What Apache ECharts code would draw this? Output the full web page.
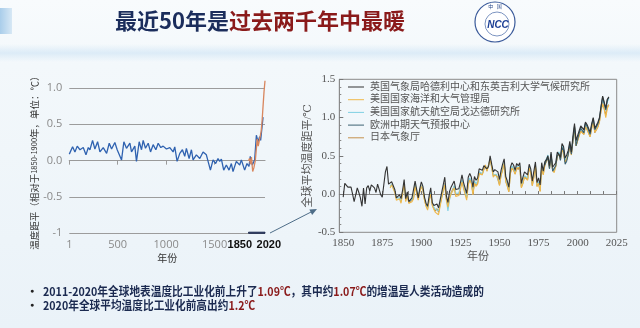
<!DOCTYPE html>
<html><head><meta charset="utf-8">
<script src="https://cdn.jsdelivr.net/npm/echarts@6/dist/echarts.min.js"></script>
<style>html,body{margin:0;padding:0;background:#f2f7fb}#c{width:640px;height:328px}</style>
</head><body><div id="c"></div>
<script>
// ---------- Left chart: 2000-year reconstruction ----------
var proxyYears = [1,35,59,83,111,145,173,197,214,241,265,293,317,351,386,413,437,471,495,540,564,591,626,643,677,694,722,746,763,787,815,839,866,894,918,945,969,1003,1038,1072,1089,1113,1141,1168,1192,1209,1237,1261,1278,1312,1347,1381,1415,1433,1457,1484,1511,1535,1553,1570,1594,1621,1649,1673,1690,1724,1759,1776,1810,1834,1855,1868,1889,1913,1931,1948,1965,1975,2000];
var proxyValues = [0.09,0.19,0.12,0.20,0.15,0.18,0.08,0.18,0.15,0.28,0.16,0.26,0.12,0.18,0.10,0.24,0.16,0.25,0.15,0.01,0.26,0.17,0.24,0.12,0.20,-0.01,0.26,0.15,0.28,0.17,0.24,0.12,0.22,0.15,0.24,0.18,0.20,0.16,0.18,0.12,0.19,-0.01,0.10,0.15,0.06,0.17,0.03,0.15,0.01,0.08,0.03,0.12,0.08,0.09,-0.13,0.01,-0.04,0.03,-0.01,0.02,-0.13,-0.06,-0.13,-0.04,-0.15,-0.01,-0.06,0.01,-0.13,-0.04,-0.08,0.06,-0.06,0.01,0.35,0.26,0.33,0.28,0.60];
var obsYears = [1850,1860,1870,1880,1893,1905,1920,1940,1950,1970,1980,1990,2000,2010,2020];
var obsValues = [0.00,0.03,-0.05,0.05,-0.15,-0.10,0.00,0.30,0.20,0.22,0.40,0.55,0.75,0.95,1.10];
var leftXLabels = [1, 500, 1000, 1500, 1850, 2020];
var leftYLabels = ['-1', '-0.5', '0.0', '0.5', '1.0'];

// ---------- Right chart: global mean temperature anomaly ----------
var rightXLabels = [1850, 1875, 1900, 1925, 1950, 1975, 2000, 2025];
var rightYLabels = ['-0.5', '0.0', '0.5', '1.0', '1.5'];
var seriesNames = ['英国气象局哈德利中心和东英吉利大学气候研究所','美国国家海洋和大气管理局','美国国家航天航空局戈达德研究所','欧洲中期天气预报中心','日本气象厅'];
var ukStart = 1850;
var ukValues = [-0.04,0.14,0.13,0.09,0.11,0.09,0.00,-0.10,-0.11,0.08,0.02,-0.05,-0.16,0.08,-0.13,0.08,0.11,0.04,0.12,0.10,
0.08,0.02,0.13,0.06,-0.01,-0.04,-0.02,0.29,0.36,0.13,0.13,0.16,0.15,0.06,-0.05,-0.03,-0.01,-0.06,0.05,0.19,
-0.06,0.03,-0.10,-0.11,-0.05,-0.03,0.17,0.15,-0.05,0.07,0.16,0.10,-0.04,-0.12,-0.16,-0.02,0.08,-0.11,-0.15,-0.16,
-0.13,-0.18,-0.08,-0.06,0.12,0.22,-0.02,-0.11,0.03,0.09,0.11,0.17,0.06,0.08,0.07,0.15,0.25,0.15,0.15,0.01,
0.22,0.27,0.22,0.09,0.23,0.18,0.21,0.33,0.35,0.31,0.37,0.38,0.33,0.36,0.50,0.39,0.29,0.32,0.32,0.29,
0.19,0.31,0.39,0.46,0.23,0.17,0.09,0.35,0.41,0.38,0.31,0.40,0.37,0.41,0.14,0.22,0.29,0.29,0.25,0.39,
0.33,0.17,0.30,0.42,0.15,0.21,0.12,0.41,0.30,0.42,0.45,0.50,0.37,0.55,0.35,0.33,0.41,0.55,0.56,0.48,
0.66,0.62,0.47,0.51,0.57,0.69,0.55,0.76,0.92,0.70,0.69,0.83,0.89,0.90,0.84,0.94,0.91,0.91,0.81,0.92,
1.00,0.86,0.90,0.94,1.00,1.15,1.28,1.20,1.12,1.24,1.27];
var noaaStart = 1880;
var noaaValues = [0.08,0.12,0.10,0.02,-0.08,-0.07,-0.06,-0.12,0.00,0.14,-0.10,-0.02,-0.12,-0.14,-0.10,-0.06,0.10,0.10,-0.08,0.03,
0.10,0.05,-0.08,-0.16,-0.21,-0.08,0.00,-0.15,-0.20,-0.24,-0.22,-0.27,-0.16,-0.14,0.04,0.12,-0.08,-0.17,-0.06,0.00,
0.02,0.08,-0.03,-0.01,-0.02,0.06,0.16,0.07,0.07,-0.08,0.12,0.18,0.14,-0.01,0.14,0.10,0.13,0.27,0.28,0.25,
0.33,0.38,0.30,0.32,0.45,0.35,0.22,0.25,0.24,0.22,0.11,0.24,0.31,0.40,0.16,0.10,0.03,0.27,0.34,0.31,
0.26,0.34,0.32,0.35,0.08,0.14,0.22,0.24,0.18,0.34,0.28,0.11,0.22,0.37,0.10,0.14,0.03,0.34,0.25,0.37,
0.43,0.47,0.34,0.50,0.31,0.28,0.36,0.49,0.52,0.45,0.60,0.58,0.42,0.44,0.51,0.63,0.51,0.70,0.86,0.63,
0.62,0.76,0.82,0.83,0.78,0.88,0.84,0.85,0.75,0.86,0.94,0.81,0.84,0.88,0.95,1.09,1.18,1.11,1.00,1.12,1.16];
var nasaStart = 1880;
var nasaValues = [0.10,0.13,0.11,0.03,-0.05,-0.06,-0.05,-0.10,0.02,0.12,-0.08,0.00,-0.10,-0.12,-0.07,-0.04,0.12,0.12,-0.03,0.05,
0.11,0.06,-0.06,-0.14,-0.18,-0.06,0.02,-0.13,-0.17,-0.20,-0.18,-0.22,-0.13,-0.12,0.05,0.13,-0.06,-0.22,-0.08,0.01,
0.04,0.11,0.01,0.03,0.01,0.10,0.19,0.10,0.10,-0.04,0.16,0.21,0.17,0.03,0.17,0.13,0.17,0.29,0.31,0.27,
0.34,0.37,0.31,0.33,0.46,0.35,0.25,0.27,0.26,0.24,0.14,0.26,0.33,0.42,0.18,0.12,0.05,0.30,0.37,0.33,
0.28,0.36,0.34,0.37,0.10,0.16,0.24,0.26,0.21,0.36,0.30,0.13,0.24,0.39,0.12,0.16,0.06,0.37,0.27,0.40,
0.46,0.51,0.36,0.53,0.33,0.30,0.38,0.52,0.55,0.47,0.63,0.60,0.44,0.47,0.54,0.67,0.55,0.71,0.88,0.65,
0.65,0.79,0.86,0.86,0.80,0.92,0.87,0.89,0.77,0.89,0.97,0.84,0.87,0.91,0.98,1.12,1.25,1.17,1.09,1.21,1.24];
var ecmwfStart = 1979;
var ecmwfValues = [0.38,0.44,0.47,0.33,0.52,0.30,0.29,0.37,0.50,0.53,0.44,0.61,0.57,0.39,0.43,0.52,0.65,0.52,0.70,0.89,
0.63,0.64,0.80,0.86,0.87,0.80,0.93,0.89,0.90,0.78,0.90,0.99,0.84,0.88,0.92,0.99,1.14,1.27,1.19,1.10,1.23,1.26];
var jmaStart = 1891;
var jmaValues = [0.01,-0.12,-0.13,-0.08,-0.05,0.12,0.11,-0.07,0.04,0.11,0.06,-0.07,-0.15,-0.19,-0.07,0.01,-0.14,-0.19,-0.22,
-0.19,-0.24,-0.14,-0.13,0.06,0.14,-0.06,-0.15,-0.05,0.02,0.04,0.10,-0.01,0.01,0.00,0.08,0.18,0.09,0.09,-0.05,
0.14,0.19,0.15,0.01,0.15,0.11,0.14,0.27,0.29,0.26,0.32,0.36,0.30,0.32,0.46,0.36,0.24,0.26,0.25,0.23,
0.12,0.25,0.32,0.41,0.17,0.11,0.03,0.28,0.35,0.32,0.26,0.35,0.32,0.36,0.09,0.14,0.23,0.24,0.19,0.35,
0.28,0.11,0.23,0.37,0.10,0.15,0.04,0.35,0.26,0.38,0.43,0.48,0.34,0.51,0.31,0.29,0.36,0.50,0.53,0.45,
0.61,0.58,0.42,0.45,0.52,0.64,0.52,0.70,0.87,0.63,0.63,0.77,0.83,0.84,0.78,0.89,0.85,0.86,0.75,0.87,
0.95,0.80,0.84,0.88,0.95,1.10,1.20,1.12,1.03,1.15,1.17];
var seriesColors = ['#333333','#efb84a','#7fd0e2','#3d6272','#c4914c'];

function pairs(xs, ys){ return xs.map(function(x,i){ return [x, ys[i]]; }); }
function fromStart(start, ys){ return ys.map(function(v,i){ return [start+i, v]; }); }
var rightTicks = []; for (var t = 0; t <= 21; t++) rightTicks.push(1850 + t*25/3);

var serifFont = '"Liberation Serif","DejaVu Serif","Noto Sans CJK SC",serif';
var sansFont = '"Noto Sans CJK SC","Noto Sans",sans-serif';

var chart = echarts.init(document.getElementById('c'), null, {renderer:'canvas'});
var rightData = [fromStart(ukStart,ukValues), fromStart(noaaStart,noaaValues), fromStart(nasaStart,nasaValues), fromStart(ecmwfStart,ecmwfValues), fromStart(jmaStart,jmaValues)];
var drawOrder = [4,2,1,3,0];

var option = {
  animation:false,
  backgroundColor:{type:'linear',x:0,y:0,x2:0,y2:1,colorStops:[{offset:0,color:'#f8fbfd'},{offset:0.2,color:'#f3f8fb'},{offset:1,color:'#eaf2f8'}]},
  graphic:[
    {type:'rect',shape:{x:0,y:44,width:640,height:18},style:{fill:{type:'linear',x:0,y:0,x2:0,y2:1,colorStops:[{offset:0,color:'rgba(214,232,246,0.0)'},{offset:0.5,color:'rgba(214,232,246,0.8)'},{offset:1,color:'rgba(214,232,246,0.0)'}]}},silent:true,z:-1},
    {type:'rect',shape:{x:0,y:8,width:12,height:26},style:{fill:{type:'linear',x:0,y:0,x2:1,y2:0,colorStops:[{offset:0,color:'#a9cdea'},{offset:1,color:'#d7e8f5'}]}},silent:true},
    {type:'text',x:260,y:21,style:{text:'{a|最近50年是}{b|过去两千年中最暖}',align:'center',verticalAlign:'middle',rich:{a:{fontSize:22,fontWeight:'bold',fontFamily:sansFont,fill:'#1b2d5c',color:'#1b2d5c'},b:{fontSize:22,fontWeight:'bold',fontFamily:sansFont,fill:'#8a1a1a',color:'#8a1a1a'}}}},
    // logo
    {type:'circle',shape:{cx:495,cy:22,r:20},style:{fill:'#ffffff',stroke:'#3a5a9a',lineWidth:1.2}},
    {type:'circle',shape:{cx:497,cy:24,r:12},style:{fill:'rgba(0,0,0,0)',stroke:'#5a78b0',lineWidth:0.8}},
    {type:'text',x:498,y:25,style:{text:'NCC',align:'center',verticalAlign:'middle',fontSize:10,fontWeight:'bold',fontStyle:'italic',fontFamily:'"Liberation Sans",sans-serif',fill:'#1c3f95'}},
    {type:'text',x:495,y:6,style:{text:'中   国',align:'center',verticalAlign:'middle',fontSize:5,fontFamily:sansFont,fill:'#2a4a8a'}},
    // arrow
    {type:'line',shape:{x1:270,y1:233,x2:314,y2:210.5},style:{stroke:'#4e6d88',lineWidth:1}},
    {type:'polygon',shape:{points:[[317,209],[312.1,214.9],[309.4,209.5]]},style:{fill:'#4e6d88'}},
    // bullets
    {type:'text',x:32,y:291,style:{text:'●',align:'center',verticalAlign:'middle',fontSize:7,fill:'#222'}},
    {type:'text',x:32,y:305,style:{text:'●',align:'center',verticalAlign:'middle',fontSize:7,fill:'#222'}},
    {type:'text',x:43,y:291,scaleX:0.89,style:{text:'{n|2011-2020年全球地表温度比工业化前上升了}{r|1.09℃}{n|，其中约}{r|1.07℃}{n|的增温是人类活动造成的}',verticalAlign:'middle',rich:{n:{fontSize:12,fontWeight:'bold',fontFamily:sansFont,fill:'#1b2a50',color:'#1b2a50'},r:{fontSize:12,fontWeight:'bold',fontFamily:sansFont,fill:'#8a1a1a',color:'#8a1a1a'}}}},
    {type:'text',x:43,y:305,scaleX:0.89,style:{text:'{n|2020年全球平均温度比工业化前高出约}{r|1.2℃}',verticalAlign:'middle',rich:{n:{fontSize:12,fontWeight:'bold',fontFamily:sansFont,fill:'#1b2a50',color:'#1b2a50'},r:{fontSize:12,fontWeight:'bold',fontFamily:sansFont,fill:'#8a1a1a',color:'#8a1a1a'}}}}
  ],
  grid:[
    {left:69.3,right:375,top:88,bottom:94.7,containLabel:false},
    {left:339.3,right:23.3,top:79.3,bottom:95.7,show:true,borderColor:'#8a8a8a',borderWidth:1,backgroundColor:'rgba(0,0,0,0)',containLabel:false}
  ],
  legend:{
    data:seriesNames, orient:'vertical', left:348, top:82, itemGap:2.7, itemWidth:16, itemHeight:10,
    textStyle:{fontSize:10,color:'#555',fontFamily:serifFont,lineHeight:10,padding:[0,0,0,1]},
    padding:0, icon:'path://M0,4.5L16,4.5L16,5.5L0,5.5Z'
  },
  xAxis:[
    {gridIndex:0,type:'value',min:1,max:2020,
      axisLine:{show:true,lineStyle:{color:'#9a9a9a',width:1.2}},
      axisTick:{show:true,length:4,customValues:[1,500,1000,1500],lineStyle:{color:'#9a9a9a'}},
      axisLabel:{customValues:leftXLabels,margin:6,fontSize:11,color:'#8a8a8a',fontFamily:'"Open Sans","Liberation Sans",sans-serif',
        formatter:function(v){ if(v===1850) return '{b|1850}'; if(v===2020) return '{c|2020}'; return String(v); },
        rich:{b:{fontSize:11,fontWeight:'bold',color:'#111',fontFamily:'"Liberation Sans",sans-serif',width:42,align:'left'},c:{fontSize:11,fontWeight:'bold',color:'#111',fontFamily:'"Liberation Sans",sans-serif',width:32,align:'right'}}},
      splitLine:{show:false},
      name:'年份',nameLocation:'middle',nameGap:20,nameTextStyle:{fontSize:10,color:'#333',fontFamily:sansFont}},
    {gridIndex:1,type:'value',min:1847.5,max:2025,
      axisLine:{show:true,lineStyle:{color:'#8a8a8a'}},
      axisTick:{show:true,inside:true,length:3,customValues:rightTicks,lineStyle:{color:'#777'}},
      axisLabel:{customValues:rightXLabels,margin:5,fontSize:11,color:'#555',fontFamily:serifFont,formatter:function(v){ return String(v); }},
      splitLine:{show:false},
      name:'年份',nameLocation:'middle',nameGap:19,nameTextStyle:{fontSize:11,color:'#555',fontFamily:serifFont}}
  ],
  yAxis:[
    {gridIndex:0,type:'value',min:-1,max:1,interval:0.5,
      axisLine:{show:false},axisTick:{show:false},
      axisLabel:{margin:7,fontSize:11,color:'#8a8a8a',fontFamily:'"Open Sans","Liberation Sans",sans-serif',
        formatter:function(v){ return leftYLabels[Math.round((v+1)*2)]; }},
      splitLine:{show:true,lineStyle:{color:'#9c9c9c',width:1.2}},
      name:'{a|温度距平（相对于}{s|1850-1900}{a|年，单位：℃）}',nameLocation:'middle',nameGap:30,nameRotate:90,
      nameTextStyle:{rich:{a:{fontSize:9.5,color:'#333',fontFamily:sansFont},s:{fontSize:7.5,color:'#333',fontFamily:sansFont}}}},
    {gridIndex:1,type:'value',min:-0.5,max:1.5,interval:0.5,
      axisLine:{show:true,lineStyle:{color:'#8a8a8a'}},
      axisTick:{show:true,inside:true,length:4,lineStyle:{color:'#777'}},
      minorTick:{show:true,splitNumber:5,length:2,lineStyle:{color:'#888'}},
      axisLabel:{margin:4,fontSize:11,color:'#555',fontFamily:serifFont,
        formatter:function(v){ return rightYLabels[Math.round((v+0.5)*2)]; }},
      splitLine:{show:false},
      name:'全球平均温度距平/℃',nameLocation:'middle',nameGap:21,nameRotate:90,
      nameTextStyle:{fontSize:11,color:'#555',fontFamily:serifFont}}
  ],
  series:[
    {type:'line',xAxisIndex:0,yAxisIndex:0,data:pairs(proxyYears,proxyValues),showSymbol:false,clip:false,
      lineStyle:{color:'#2f62b0',width:1.3},itemStyle:{color:'#2f62b0'},
      markArea:{silent:true,itemStyle:{color:'#4d5f8e',borderColor:'#1e2b4e',borderWidth:1},data:[[{coord:[1850,-0.985]},{coord:[2020,-1.05]}]]}},
    {type:'line',xAxisIndex:0,yAxisIndex:0,data:pairs(obsYears,obsValues),showSymbol:false,clip:false,
      lineStyle:{color:'#d8865e',width:1.3},itemStyle:{color:'#d8865e'}}
  ]
};
drawOrder.forEach(function(i){
  option.series.push({name:seriesNames[i],type:'line',xAxisIndex:1,yAxisIndex:1,data:rightData[i],showSymbol:false,symbol:'none',
    lineStyle:{color:seriesColors[i],width:1.1},itemStyle:{color:seriesColors[i]}});
});
chart.setOption(option);
</script></body></html>
